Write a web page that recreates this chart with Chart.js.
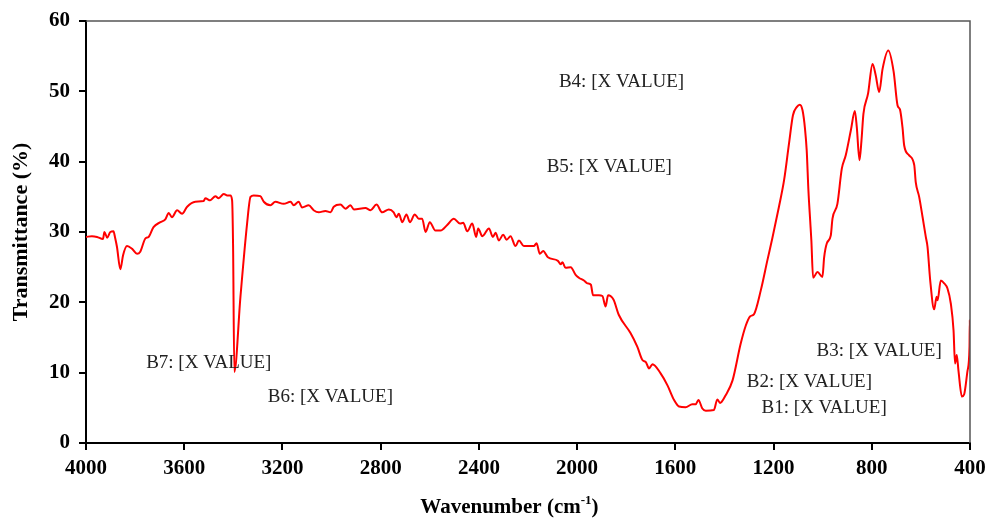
<!DOCTYPE html>
<html>
<head>
<meta charset="utf-8">
<script src="https://cdn.jsdelivr.net/npm/chart.js@4/dist/chart.umd.min.js"></script>
<style>
  html, body { margin: 0; padding: 0; background: #fff; }
  #wrap { width: 986px; height: 518px; }
</style>
</head>
<body>
<div id="wrap"><canvas id="ftir" width="986" height="518"></canvas></div>
<script>
// FTIR spectrum, wavenumber (cm-1) vs transmittance (%)
const wavenumbers = [
  4000, 3976, 3955, 3931, 3925, 3914, 3901, 3888, 3881, 3874, 3860, 3849, 3833, 3812, 3792, 3779,
  3758, 3745, 3725, 3697, 3677, 3663, 3650, 3629, 3609, 3588, 3555, 3521, 3514, 3494, 3473, 3460,
  3439, 3425, 3412, 3405, 3401, 3396, 3371, 3344, 3330, 3317, 3290, 3276, 3249, 3229, 3195, 3167,
  3154, 3134, 3120, 3093, 3073, 3052, 3025, 3004, 2991, 2964, 2943, 2923, 2909, 2862, 2841, 2817,
  2794, 2767, 2747, 2736, 2726, 2712, 2695, 2681, 2661, 2645, 2631, 2617, 2600, 2577, 2556, 2529,
  2502, 2477, 2464, 2447, 2427, 2411, 2403, 2386, 2359, 2343, 2332, 2319, 2301, 2287, 2271, 2251,
  2237, 2217, 2176, 2165, 2152, 2138, 2119, 2078, 2067, 2060, 2047, 2026, 2006, 1993, 1972, 1958,
  1944, 1935, 1911, 1897, 1884, 1874, 1852, 1830, 1782, 1755, 1734, 1720, 1707, 1693, 1660, 1632,
  1605, 1585, 1558, 1531, 1517, 1506, 1490, 1476, 1443, 1429, 1418, 1395, 1367, 1334, 1313, 1296,
  1280, 1252, 1225, 1205, 1178, 1157, 1137, 1121, 1105, 1093, 1082, 1072, 1065, 1058, 1051, 1046,
  1039, 1021, 1001, 994, 983, 967, 960, 940, 922, 906, 885, 869, 861, 850, 842, 834,
  815, 797, 784, 770, 756, 733, 711, 695, 685, 675, 668, 648, 627, 621, 607, 593,
  580, 573, 562, 546, 536, 532, 519, 505, 492, 478, 467, 461, 454, 447, 433, 424,
  410, 402, 400.8, 400
];
const transmittance = [
  29.3, 29.4, 29.3, 29.0, 30.0, 29.2, 30.0, 30.1, 29.1, 27.9, 24.7, 26.7, 28.0, 27.6, 26.9, 27.2,
  29.1, 29.3, 30.7, 31.4, 31.8, 32.7, 32.1, 33.1, 32.6, 33.6, 34.3, 34.4, 34.8, 34.5, 35.1, 34.8,
  35.4, 35.2, 35.2, 34.5, 27.9, 10.1, 20.8, 31.2, 35.0, 35.2, 35.1, 34.3, 33.8, 34.3, 34.0, 34.3,
  33.8, 34.3, 33.5, 33.8, 33.1, 32.8, 33.0, 32.8, 33.6, 33.9, 33.3, 33.8, 33.2, 33.4, 33.1, 33.9,
  32.8, 33.2, 32.8, 32.1, 32.6, 31.4, 32.5, 31.4, 32.5, 31.9, 31.9, 30.0, 31.4, 30.2, 30.2, 31.0,
  31.9, 31.2, 31.3, 30.1, 31.2, 29.3, 30.5, 29.4, 30.5, 29.3, 29.9, 28.8, 29.6, 28.9, 29.4, 28.0,
  28.8, 28.0, 28.0, 28.4, 26.9, 27.3, 26.4, 25.9, 25.4, 25.7, 24.9, 25.0, 23.9, 23.5, 23.1, 22.7,
  22.5, 21.0, 21.0, 20.9, 19.4, 21.0, 20.4, 18.2, 15.6, 13.7, 11.8, 11.5, 10.6, 11.2, 9.9, 8.2,
  6.1, 5.2, 5.1, 5.5, 5.5, 6.1, 4.9, 4.6, 4.7, 6.2, 5.7, 6.8, 8.9, 14.1, 16.7, 18.0,
  18.3, 21.7, 26.0, 29.1, 33.6, 37.4, 42.6, 46.6, 47.8, 48.1, 47.3, 44.7, 41.6, 35.9, 31.7, 28.8,
  23.5, 24.3, 23.6, 26.4, 28.4, 29.5, 31.9, 34.0, 39.0, 40.9, 44.5, 47.2, 44.9, 40.2, 43.0, 46.8,
  49.7, 53.9, 52.3, 49.9, 53.2, 55.8, 52.8, 48.0, 47.4, 44.9, 42.3, 40.9, 39.5, 37.1, 35.0, 32.1,
  29.3, 27.9, 23.1, 19.0, 20.8, 20.3, 23.1, 22.7, 22.0, 19.8, 16.0, 11.3, 12.5, 10.3, 6.6, 6.9,
  10.3, 13.7, 17.5, 15.6
];

// band labels, anchored by their left edge (wavenumber) and vertical middle (transmittance)
const bandLabels = ['B1: [X VALUE]', 'B2: [X VALUE]', 'B3: [X VALUE]', 'B4: [X VALUE]',
                    'B5: [X VALUE]', 'B6: [X VALUE]', 'B7: [X VALUE]'];
const bandWn = [1249, 1309, 1025, 2074, 2124, 3260, 3755];
const bandT = [5.0, 8.7, 13.1, 51.3, 39.2, 6.5, 11.4];

const xTicks = [4000, 3600, 3200, 2800, 2400, 2000, 1600, 1200, 800, 400];

const serif = '"Liberation Serif", "Times New Roman", serif';

const points = wavenumbers.map((w, i) => ({ x: w, y: transmittance[i] }));

// top/right frame, band labels and the x title with a superscript
const extras = {
  id: 'extras',
  afterDraw(chart) {
    const ctx = chart.ctx;
    const area = chart.chartArea;
    const xs = chart.scales.x, ys = chart.scales.y;
    ctx.save();
    ctx.strokeStyle = '#555';
    ctx.lineWidth = 1.5;
    ctx.beginPath();
    ctx.moveTo(area.left, area.top);
    ctx.lineTo(area.right, area.top);
    ctx.lineTo(area.right, area.bottom);
    ctx.stroke();

    ctx.fillStyle = '#222';
    ctx.font = '19px ' + serif;
    ctx.textAlign = 'left';
    ctx.textBaseline = 'middle';
    bandLabels.forEach((txt, i) => {
      ctx.fillText(txt, xs.getPixelForValue(bandWn[i]), ys.getPixelForValue(bandT[i]));
    });

    // Wavenumber (cm-1)
    const big = 'bold 21px ' + serif, small = 'bold 13px ' + serif;
    const a = 'Wavenumber (cm', b = '-1', c = ')';
    ctx.font = big; const wa = ctx.measureText(a).width, wc = ctx.measureText(c).width;
    ctx.font = small; const wb = ctx.measureText(b).width;
    let x = area.left + (area.right - area.left) * 0.479 - (wa + wb + wc) / 2;
    const y = 513;
    ctx.fillStyle = '#000';
    ctx.textBaseline = 'alphabetic';
    ctx.font = big; ctx.fillText(a, x, y); x += wa;
    ctx.font = small; ctx.fillText(b, x, y - 9); x += wb;
    ctx.font = big; ctx.fillText(c, x, y);
    ctx.restore();
  }
};

new Chart(document.getElementById('ftir'), {
  type: 'line',
  data: {
    datasets: [{
      data: points,
      borderColor: '#ff0000',
      borderWidth: 2,
      pointRadius: 0,
      fill: false,
      cubicInterpolationMode: 'monotone'
    }]
  },
  options: {
    responsive: false,
    animation: false,
    layout: { padding: { left: 0, top: 21, right: 16, bottom: 0 } },
    plugins: { legend: { display: false }, tooltip: { enabled: false } },
    scales: {
      x: {
        type: 'linear',
        reverse: true,
        min: 400,
        max: 4000,
        afterFit: s => { s.height = 75; s.paddingLeft = 0; s.paddingRight = 0; },
        afterBuildTicks: s => { s.ticks = xTicks.map(v => ({ value: v })); },
        border: { color: '#000', width: 2 },
        grid: { drawOnChartArea: false, drawTicks: true, tickLength: 7, color: '#000', lineWidth: 2 },
        ticks: {
          color: '#000', padding: 6, maxRotation: 0,
          font: { family: serif, size: 21, weight: 'bold' },
          callback: v => String(v)
        }
      },
      y: {
        min: 0,
        max: 60,
        afterFit: s => { s.width = 86; s.paddingTop = 0; s.paddingBottom = 0; },
        border: { color: '#000', width: 2 },
        grid: { drawOnChartArea: false, drawTicks: true, tickLength: 7, color: '#000', lineWidth: 2 },
        ticks: {
          stepSize: 10, color: '#000', padding: 9,
          font: { family: serif, size: 21, weight: 'bold' },
          callback: v => String(v)
        },
        title: {
          display: true,
          text: 'Transmittance (%)',
          color: '#000',
          padding: { top: 8, bottom: 0 },
          font: { family: serif, size: 22, weight: 'bold' }
        }
      }
    }
  },
  plugins: [extras]
});
</script>
</body>
</html>
